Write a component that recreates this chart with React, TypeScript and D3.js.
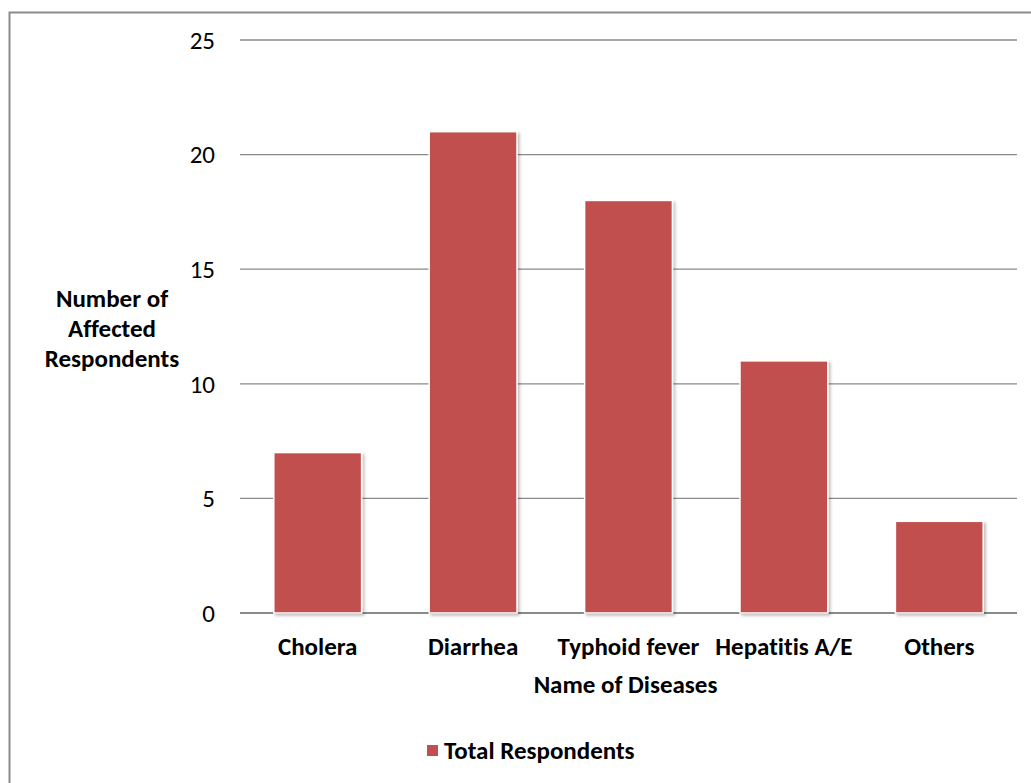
import React from "react";
import * as d3 from "d3";

const categories = ["Cholera", "Diarrhea", "Typhoid fever", "Hepatitis A/E", "Others"];
const totalRespondents = [7, 21, 18, 11, 4];
const yTicks = [0, 5, 10, 15, 20, 25];
const seriesName = "Total Respondents";
const xTitle = "Name of Diseases";
const yTitleLines = ["Number of", "Affected", "Respondents"];

const W = 1031;
const H = 783;
const left = 240;
const right = 1017;
const top = 40;
const bottom = 613;
const barColor = "#C0504D";
const font = "Carlito, Calibri, 'Open Sans', 'Liberation Sans', sans-serif";
const fs = 25;

export default function App() {
  const x = d3.scaleBand<string>().domain(categories).range([left, right]).paddingInner(0.435).paddingOuter(0.2175);
  const y = d3.scaleLinear().domain([0, 25]).range([bottom, top]);
  return (
    <svg
      width={W}
      height={H}
      style={{ position: "absolute", left: 0, top: 0, fontVariantLigatures: "none" }}
      fontFamily={font}
    >
      <defs>
        <filter id="sh" x="-20%" y="-20%" width="140%" height="140%">
          <feDropShadow dx="2" dy="2" stdDeviation="1.5" floodColor="#000" floodOpacity="0.25" />
        </filter>
      </defs>
      <rect x={0} y={0} width={W} height={H} fill="#fff" />
      <rect x={9.5} y={12.5} width={W + 10} height={H + 10} fill="none" stroke="#8c8c8c" strokeWidth={2} />
      {yTicks.map((t) => (
        <g key={t}>
          <line x1={left} x2={right} y1={y(t)} y2={y(t)} stroke="#8a8a8a" strokeWidth={t === 0 ? 2 : 1.3} />
          <text x={215} y={y(t)} dy="0.35em" textAnchor="end" fontSize={fs} fill="#000">
            {t}
          </text>
        </g>
      ))}
      {categories.map((c, i) => (
        <g key={c}>
          <rect
            x={x(c)!}
            y={y(totalRespondents[i])}
            width={x.bandwidth()}
            height={y(0) - y(totalRespondents[i])}
            fill={barColor}
            stroke="#fff"
            strokeWidth={1.5}
            filter="url(#sh)"
          />
          <text x={x(c)! + x.bandwidth() / 2} y={646} dy="0.35em" textAnchor="middle" fontSize={fs} fontWeight="bold">
            {c}
          </text>
        </g>
      ))}
      <text x={(left + right) / 2 - 3} y={684} dy="0.35em" textAnchor="middle" fontSize={fs} fontWeight="bold">
        {xTitle}
      </text>
      {yTitleLines.map((l, i) => (
        <text key={l} x={112} y={298 + i * 30} dy="0.35em" textAnchor="middle" fontSize={fs} fontWeight="bold">
          {l}
        </text>
      ))}
      <rect x={427} y={745} width={11} height={11} fill={barColor} />
      <text x={444} y={750.5} dy="0.35em" fontSize={fs} fontWeight="bold">
        {seriesName}
      </text>
    </svg>
  );
}
